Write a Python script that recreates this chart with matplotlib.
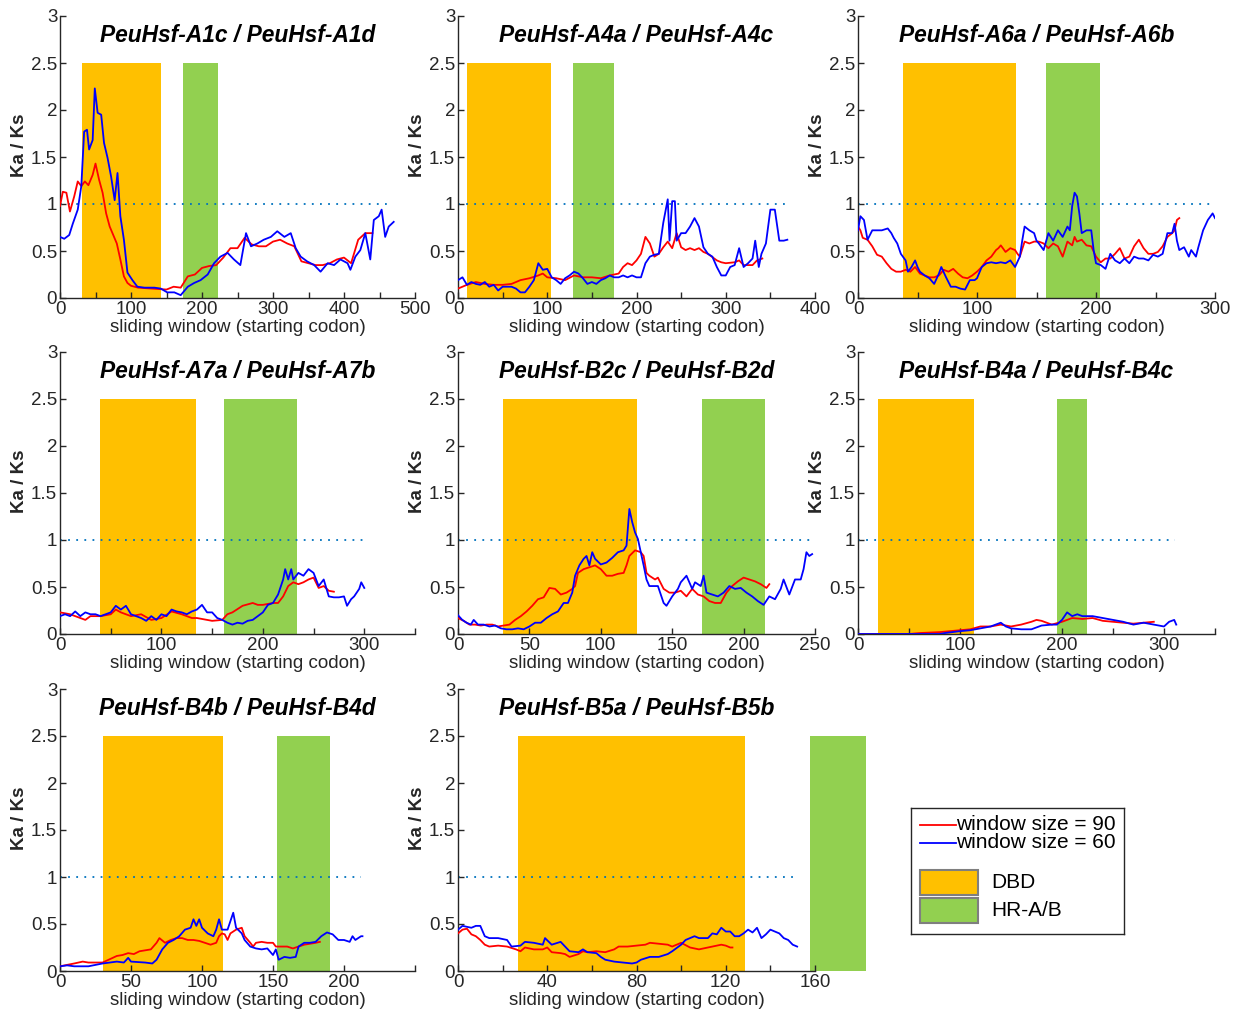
"""
Sliding-window Ka/Ks plots for PeuHsf paralog pairs (saved to out.png).
"""
import matplotlib
matplotlib.use("Agg")
import matplotlib.pyplot as plt
from matplotlib.patches import Rectangle

plt.rcParams["font.family"] = ["Liberation Sans", "DejaVu Sans"]

RED = "#ff0000"
BLUE = "#0000ff"
DBD_COLOR = "#ffc000"
HR_COLOR = "#92d050"
DOT_COLOR = "#0072bd"
AXIS_GRAY = "#262626"

# ---------------- data: A1c / A1d ----------------
a1_title = "PeuHsf-A1c / PeuHsf-A1d"
a1_dbd = (31, 142)
a1_hr = (173, 222)
a1_xlim = 500
a1_dot_end = 468
a1_ticks = [0, 50, 100, 150, 200, 250, 300, 350, 400, 450, 500]
a1_labels = ["0", "", "100", "", "200", "", "300", "", "400", "", "500"]
a1_red_x = [0, 4, 9, 14, 20, 25, 30, 35, 40, 46, 50, 55, 60, 65, 70, 75, 80, 85, 90, 95,
            100, 110, 130, 150, 160, 170, 180, 190, 200, 210, 220, 230, 240, 250, 260, 270,
            280, 290, 300, 310, 320, 330, 340, 350, 360, 370, 380, 390, 400, 410, 420, 430, 440]
a1_red_y = [0.98, 1.13, 1.12, 0.92, 1.08, 1.24, 1.19, 1.24, 1.20, 1.31, 1.43, 1.26, 1.12, 0.90,
            0.76, 0.67, 0.58, 0.41, 0.23, 0.16, 0.13, 0.11, 0.10, 0.09, 0.12, 0.11, 0.23, 0.25,
            0.32, 0.34, 0.35, 0.43, 0.53, 0.53, 0.64, 0.57, 0.55, 0.55, 0.60, 0.62, 0.58, 0.55,
            0.39, 0.37, 0.35, 0.35, 0.37, 0.41, 0.43, 0.37, 0.62, 0.69, 0.69]
a1_blue_x = [0, 6, 13, 18, 25, 30, 34, 38, 41, 46, 49, 53, 58, 62, 67, 72, 77, 81, 85, 90,
             95, 102, 109, 119, 133, 142, 151, 161, 170, 180, 189, 198, 208, 217, 226, 236,
             245, 254, 262, 269, 278, 287, 297, 306, 316, 325, 332, 339, 348, 358, 367, 377,
             386, 395, 405, 409, 416, 423, 430, 437, 442, 449, 453, 458, 463, 470]
a1_blue_y = [0.65, 0.63, 0.67, 0.79, 0.94, 1.19, 1.77, 1.79, 1.58, 1.68, 2.23, 1.97, 1.95, 1.65,
             1.49, 1.29, 1.04, 1.33, 0.87, 0.62, 0.27, 0.19, 0.12, 0.11, 0.11, 0.10, 0.06, 0.06,
             0.03, 0.12, 0.16, 0.19, 0.25, 0.37, 0.44, 0.48, 0.41, 0.35, 0.69, 0.55, 0.58, 0.62,
             0.65, 0.71, 0.65, 0.69, 0.53, 0.44, 0.39, 0.35, 0.28, 0.37, 0.35, 0.41, 0.37, 0.30,
             0.44, 0.51, 0.69, 0.41, 0.83, 0.87, 0.94, 0.65, 0.76, 0.81]

# ---------------- data: A4a / A4c ----------------
a4_title = "PeuHsf-A4a / PeuHsf-A4c"
a4_dbd = (10, 104)
a4_hr = (129, 175)
a4_xlim = 400
a4_dot_end = 367
a4_ticks = [0, 50, 100, 150, 200, 250, 300, 350, 400]
a4_labels = ["0", "", "100", "", "200", "", "300", "", "400"]
a4_red_x = [0, 10, 20, 30, 40, 50, 60, 65, 70, 80, 90, 95, 100, 110, 120, 130, 140, 150, 160,
            170, 180, 185, 190, 195, 200, 205, 210, 215, 220, 225, 230, 235, 240, 245, 250,
            255, 260, 265, 270, 275, 280, 290, 295, 300, 310, 315, 320, 330, 335, 341]
a4_red_y = [0.10, 0.14, 0.17, 0.15, 0.14, 0.14, 0.15, 0.17, 0.19, 0.21, 0.24, 0.26, 0.22, 0.21,
            0.19, 0.24, 0.22, 0.22, 0.21, 0.24, 0.26, 0.33, 0.37, 0.35, 0.40, 0.47, 0.65, 0.58,
            0.44, 0.47, 0.54, 0.60, 0.53, 0.69, 0.54, 0.51, 0.53, 0.51, 0.53, 0.49, 0.47, 0.40,
            0.38, 0.37, 0.38, 0.40, 0.35, 0.35, 0.40, 0.42]
a4_blue_x = [0, 5, 10, 15, 20, 25, 30, 35, 40, 45, 50, 55, 60, 65, 70, 75, 80, 85, 90, 95, 100,
             105, 110, 115, 120, 125, 130, 135, 140, 145, 150, 155, 160, 165, 170, 175, 180,
             185, 190, 195, 200, 205, 210, 215, 220, 225, 230, 235, 237, 240, 243, 245, 250,
             255, 260, 265, 270, 275, 280, 285, 290, 295, 300, 305, 310, 315, 320, 325, 330,
             333, 337, 340, 345, 350, 355, 360, 365, 369]
a4_blue_y = [0.19, 0.22, 0.14, 0.17, 0.15, 0.14, 0.17, 0.12, 0.14, 0.08, 0.12, 0.12, 0.12, 0.10,
             0.06, 0.06, 0.12, 0.19, 0.37, 0.30, 0.31, 0.22, 0.19, 0.15, 0.21, 0.24, 0.28, 0.26,
             0.21, 0.15, 0.17, 0.15, 0.19, 0.21, 0.24, 0.22, 0.22, 0.24, 0.22, 0.24, 0.22, 0.22,
             0.37, 0.44, 0.46, 0.47, 0.80, 1.05, 0.61, 1.03, 1.03, 0.61, 0.69, 0.69, 0.76, 0.85,
             0.76, 0.54, 0.47, 0.44, 0.33, 0.24, 0.24, 0.33, 0.35, 0.53, 0.33, 0.37, 0.42, 0.61,
             0.33, 0.47, 0.58, 0.94, 0.94, 0.61, 0.61, 0.62]

# ---------------- data: A6a / A6b ----------------
a6_title = "PeuHsf-A6a / PeuHsf-A6b"
a6_dbd = (37.6, 132.6)
a6_hr = (158, 203.6)
a6_xlim = 300
a6_dot_end = 300
a6_ticks = [0, 50, 100, 150, 200, 250, 300]
a6_labels = ["0", "", "100", "", "200", "", "300"]
a6_red_x = [0, 2, 4, 8, 12, 16, 20, 24, 28, 32, 36, 40, 44, 48, 52, 56, 60, 64, 68, 72, 76, 80,
            84, 88, 92, 96, 100, 104, 108, 112, 116, 118, 120, 124, 128, 132, 134, 136, 140,
            144, 148, 152, 156, 160, 164, 168, 172, 176, 180, 182, 184, 188, 192, 196, 200,
            204, 208, 212, 216, 220, 224, 228, 232, 236, 240, 244, 248, 252, 256, 260, 264,
            266, 268, 270]
a6_red_y = [0.76, 0.72, 0.64, 0.62, 0.55, 0.46, 0.44, 0.37, 0.31, 0.28, 0.28, 0.30, 0.28, 0.33,
            0.26, 0.24, 0.22, 0.22, 0.24, 0.30, 0.28, 0.31, 0.26, 0.22, 0.21, 0.24, 0.28, 0.33,
            0.40, 0.44, 0.51, 0.53, 0.56, 0.49, 0.53, 0.51, 0.47, 0.44, 0.60, 0.58, 0.60, 0.60,
            0.58, 0.53, 0.58, 0.55, 0.44, 0.60, 0.56, 0.65, 0.60, 0.62, 0.56, 0.55, 0.44, 0.38,
            0.42, 0.42, 0.47, 0.53, 0.42, 0.44, 0.55, 0.62, 0.53, 0.47, 0.47, 0.49, 0.55, 0.65,
            0.69, 0.72, 0.83, 0.85]
a6_blue_x = [0, 2, 5, 8, 12, 16, 20, 25, 28, 30, 33, 36, 40, 42, 45, 48, 50, 52, 56, 60, 64, 68,
             70, 74, 78, 82, 86, 90, 94, 98, 100, 104, 108, 112, 116, 120, 124, 128, 132, 136,
             138, 140, 144, 148, 150, 152, 156, 160, 164, 168, 172, 176, 178, 180, 182, 184,
             186, 188, 192, 196, 198, 200, 204, 208, 212, 216, 220, 224, 228, 232, 236, 240,
             244, 248, 252, 256, 260, 264, 266, 268, 270, 274, 278, 280, 284, 286, 290, 294,
             298, 300]
a6_blue_y = [0.72, 0.87, 0.83, 0.62, 0.72, 0.72, 0.72, 0.74, 0.69, 0.64, 0.58, 0.47, 0.40, 0.28,
             0.33, 0.40, 0.33, 0.28, 0.24, 0.21, 0.15, 0.26, 0.33, 0.22, 0.12, 0.12, 0.10, 0.09,
             0.19, 0.19, 0.21, 0.33, 0.37, 0.38, 0.37, 0.38, 0.37, 0.40, 0.33, 0.44, 0.61, 0.76,
             0.72, 0.69, 0.61, 0.58, 0.51, 0.69, 0.61, 0.72, 0.65, 0.76, 0.72, 0.98, 1.12, 1.08,
             0.90, 0.69, 0.72, 0.72, 0.51, 0.37, 0.35, 0.31, 0.47, 0.40, 0.37, 0.42, 0.37, 0.44,
             0.42, 0.42, 0.40, 0.46, 0.44, 0.47, 0.69, 0.69, 0.79, 0.61, 0.51, 0.54, 0.44, 0.51,
             0.44, 0.54, 0.72, 0.83, 0.90, 0.85]

# ---------------- data: A7a / A7b ----------------
a7_title = "PeuHsf-A7a / PeuHsf-A7b"
a7_dbd = (39.6, 133.8)
a7_hr = (161.6, 233.6)
a7_xlim = 350
a7_dot_end = 300
a7_ticks = [0, 50, 100, 150, 200, 250, 300, 350]
a7_labels = ["0", "", "100", "", "200", "", "300", ""]
a7_red_x = [0, 10, 20, 25, 30, 40, 50, 55, 60, 70, 80, 90, 100, 110, 120, 130, 135, 140, 150,
            160, 165, 170, 180, 190, 195, 200, 210, 215, 220, 225, 230, 235, 240, 245, 250,
            255, 260, 265, 270]
a7_red_y = [0.23, 0.21, 0.17, 0.15, 0.19, 0.19, 0.21, 0.26, 0.23, 0.19, 0.21, 0.15, 0.17, 0.24,
            0.21, 0.17, 0.17, 0.16, 0.14, 0.15, 0.21, 0.23, 0.30, 0.33, 0.31, 0.31, 0.33, 0.33,
            0.40, 0.51, 0.55, 0.53, 0.55, 0.58, 0.60, 0.49, 0.51, 0.46, 0.45]
a7_blue_x = [0, 5, 10, 15, 20, 25, 30, 35, 40, 45, 50, 55, 60, 65, 70, 75, 80, 85, 90, 95, 100,
             105, 110, 115, 120, 125, 130, 135, 140, 145, 150, 155, 160, 165, 170, 175, 180,
             185, 190, 195, 200, 205, 210, 215, 220, 222, 225, 228, 230, 235, 240, 245, 250,
             255, 260, 265, 270, 275, 280, 283, 287, 290, 295, 297, 300]
a7_blue_y = [0.19, 0.21, 0.19, 0.24, 0.19, 0.23, 0.21, 0.21, 0.19, 0.21, 0.23, 0.30, 0.26, 0.30,
             0.21, 0.19, 0.17, 0.14, 0.19, 0.15, 0.21, 0.19, 0.26, 0.24, 0.23, 0.21, 0.24, 0.26,
             0.31, 0.23, 0.23, 0.17, 0.15, 0.12, 0.10, 0.12, 0.11, 0.14, 0.15, 0.19, 0.23, 0.31,
             0.33, 0.42, 0.58, 0.69, 0.58, 0.69, 0.58, 0.65, 0.62, 0.69, 0.65, 0.51, 0.58, 0.40,
             0.39, 0.39, 0.40, 0.30, 0.37, 0.40, 0.48, 0.55, 0.49]

# ---------------- data: B2c / B2d ----------------
b2_title = "PeuHsf-B2c / PeuHsf-B2d"
b2_dbd = (31.7, 125.6)
b2_hr = (171, 215)
b2_xlim = 250
b2_dot_end = 250
b2_ticks = [0, 50, 100, 150, 200, 250]
b2_labels = ["0", "50", "100", "150", "200", "250"]
b2_red_x = [0, 4, 8, 12, 16, 20, 24, 28, 32, 36, 40, 44, 48, 52, 56, 60, 62, 64, 68, 72, 76, 80,
            82, 84, 88, 92, 96, 100, 104, 108, 112, 116, 118, 120, 124, 128, 130, 132, 134,
            138, 140, 144, 148, 152, 156, 160, 164, 168, 172, 176, 180, 184, 188, 192, 196,
            200, 204, 208, 212, 216, 218]
b2_red_y = [0.17, 0.14, 0.10, 0.10, 0.09, 0.10, 0.10, 0.08, 0.09, 0.10, 0.15, 0.19, 0.24, 0.30,
            0.37, 0.39, 0.44, 0.49, 0.48, 0.42, 0.44, 0.48, 0.51, 0.65, 0.69, 0.71, 0.73, 0.69,
            0.62, 0.62, 0.64, 0.65, 0.73, 0.83, 0.89, 0.87, 0.83, 0.65, 0.62, 0.58, 0.60, 0.48,
            0.44, 0.44, 0.46, 0.40, 0.48, 0.42, 0.40, 0.35, 0.33, 0.33, 0.44, 0.51, 0.56, 0.60,
            0.58, 0.56, 0.53, 0.49, 0.53]
b2_blue_x = [0, 3, 6, 9, 11, 14, 18, 22, 26, 30, 34, 38, 42, 46, 50, 54, 58, 62, 66, 70, 74, 77,
             80, 82, 85, 88, 90, 92, 94, 96, 100, 104, 108, 112, 116, 118, 120, 122, 124, 126,
             128, 130, 132, 134, 136, 140, 144, 146, 150, 154, 156, 160, 164, 166, 170, 172,
             174, 178, 182, 186, 190, 194, 198, 202, 206, 210, 214, 218, 222, 226, 228, 232,
             236, 240, 242, 244, 246, 248]
b2_blue_y = [0.20, 0.15, 0.12, 0.10, 0.15, 0.10, 0.10, 0.08, 0.09, 0.06, 0.05, 0.05, 0.06, 0.05,
             0.08, 0.12, 0.12, 0.17, 0.21, 0.24, 0.33, 0.33, 0.44, 0.62, 0.73, 0.80, 0.83, 0.73,
             0.87, 0.80, 0.74, 0.76, 0.81, 0.87, 0.89, 0.94, 1.33, 1.19, 1.08, 1.01, 0.87, 0.73,
             0.58, 0.51, 0.51, 0.51, 0.33, 0.30, 0.40, 0.48, 0.55, 0.62, 0.48, 0.55, 0.51, 0.62,
             0.44, 0.42, 0.40, 0.44, 0.51, 0.48, 0.49, 0.44, 0.40, 0.35, 0.31, 0.40, 0.37, 0.48,
             0.58, 0.42, 0.58, 0.58, 0.69, 0.87, 0.83, 0.85]

# ---------------- data: B4a / B4c ----------------
b4ac_title = "PeuHsf-B4a / PeuHsf-B4c"
b4ac_dbd = (19.7, 113.5)
b4ac_hr = (195.4, 224.6)
b4ac_xlim = 350
b4ac_dot_end = 311
b4ac_ticks = [0, 50, 100, 150, 200, 250, 300, 350]
b4ac_labels = ["0", "", "100", "", "200", "", "300", ""]
b4ac_red_x = [0, 50, 60, 80, 100, 110, 120, 130, 140, 150, 160, 170, 175, 180, 190, 200, 210,
              220, 230, 240, 250, 260, 270, 280, 290]
b4ac_red_y = [0.0, 0.0, 0.01, 0.02, 0.04, 0.05, 0.08, 0.08, 0.10, 0.08, 0.10, 0.13, 0.15, 0.14,
              0.10, 0.13, 0.17, 0.16, 0.17, 0.14, 0.13, 0.12, 0.11, 0.12, 0.13]
b4ac_blue_x = [0, 80, 85, 100, 110, 120, 130, 140, 145, 150, 160, 170, 180, 190, 195, 200, 205,
               210, 215, 220, 230, 240, 250, 260, 270, 280, 290, 300, 305, 310, 312]
b4ac_blue_y = [0.0, 0.0, 0.01, 0.03, 0.04, 0.06, 0.08, 0.12, 0.08, 0.06, 0.05, 0.05, 0.09, 0.10,
               0.10, 0.15, 0.23, 0.19, 0.21, 0.19, 0.19, 0.17, 0.15, 0.13, 0.10, 0.12, 0.10,
               0.08, 0.13, 0.15, 0.10]

# ---------------- data: B4b / B4d ----------------
b4bd_title = "PeuHsf-B4b / PeuHsf-B4d"
b4bd_dbd = (30, 114.6)
b4bd_hr = (153, 190)
b4bd_xlim = 250
b4bd_dot_end = 212
b4bd_ticks = [0, 50, 100, 150, 200, 250]
b4bd_labels = ["0", "50", "100", "150", "200", ""]
b4bd_red_x = [0, 10, 16, 20, 30, 40, 44, 48, 52, 56, 60, 64, 68, 70, 74, 78, 82, 86, 90, 94,
              98, 102, 106, 110, 112, 114, 116, 118, 120, 124, 128, 130, 134, 136, 138, 142,
              146, 150, 152, 156, 160, 164, 168, 172, 176, 180, 183]
b4bd_red_y = [0.05, 0.08, 0.10, 0.09, 0.09, 0.16, 0.17, 0.19, 0.18, 0.21, 0.22, 0.23, 0.30,
              0.35, 0.30, 0.33, 0.35, 0.35, 0.33, 0.33, 0.32, 0.30, 0.28, 0.30, 0.37, 0.40, 0.39,
              0.33, 0.40, 0.44, 0.46, 0.37, 0.30, 0.26, 0.30, 0.31, 0.30, 0.30, 0.26, 0.26, 0.26,
              0.24, 0.26, 0.28, 0.29, 0.30, 0.31]
b4bd_blue_x = [0, 5, 10, 20, 30, 35, 40, 45, 48, 50, 60, 65, 68, 72, 76, 80, 84, 88, 92, 94, 96,
               98, 100, 104, 108, 110, 112, 114, 118, 122, 124, 128, 130, 134, 138, 142, 146,
               150, 152, 154, 158, 162, 166, 168, 172, 176, 180, 184, 188, 192, 196, 200, 204,
               206, 208, 212, 213]
b4bd_blue_y = [0.05, 0.06, 0.05, 0.05, 0.08, 0.09, 0.10, 0.09, 0.14, 0.10, 0.09, 0.08, 0.12,
               0.23, 0.30, 0.33, 0.37, 0.44, 0.46, 0.55, 0.48, 0.55, 0.46, 0.40, 0.37, 0.44, 0.55,
               0.44, 0.44, 0.62, 0.46, 0.40, 0.33, 0.26, 0.24, 0.23, 0.24, 0.17, 0.23, 0.12, 0.15,
               0.14, 0.15, 0.26, 0.30, 0.30, 0.31, 0.37, 0.41, 0.39, 0.33, 0.33, 0.31, 0.37, 0.33,
               0.37, 0.37]

# ---------------- data: B5a / B5b ----------------
b5_title = "PeuHsf-B5a / PeuHsf-B5b"
b5_dbd = (26.9, 128.8)
b5_hr = (157.6, 182.8)
b5_xlim = 160
b5_dot_end = 152
b5_ticks = [0, 20, 40, 60, 80, 100, 120, 140, 160]
b5_labels = ["0", "", "40", "", "80", "", "120", "", "160"]
b5_red_x = [0, 2, 4, 6, 8, 10, 12, 14, 18, 22, 26, 28, 30, 34, 38, 40, 42, 46, 48, 50, 54, 56,
            58, 62, 66, 70, 72, 76, 80, 84, 86, 90, 94, 96, 98, 100, 104, 108, 112, 114, 118,
            120, 122, 123]
b5_red_y = [0.40, 0.44, 0.45, 0.39, 0.37, 0.33, 0.28, 0.26, 0.27, 0.26, 0.23, 0.21, 0.25, 0.23,
            0.23, 0.25, 0.20, 0.19, 0.18, 0.15, 0.18, 0.21, 0.20, 0.21, 0.20, 0.23, 0.26, 0.26,
            0.27, 0.28, 0.30, 0.29, 0.28, 0.26, 0.28, 0.30, 0.25, 0.23, 0.25, 0.26, 0.28, 0.27,
            0.25, 0.25]
b5_blue_x = [0, 2, 4, 6, 8, 10, 12, 14, 18, 22, 24, 28, 30, 34, 38, 39, 42, 46, 48, 50, 54, 56,
             58, 62, 64, 66, 70, 74, 78, 80, 82, 86, 90, 94, 96, 100, 102, 106, 108, 112, 114,
             116, 118, 120, 122, 124, 126, 128, 130, 132, 134, 136, 138, 140, 142, 144, 146,
             148, 150, 152]
b5_blue_y = [0.44, 0.48, 0.47, 0.46, 0.48, 0.48, 0.37, 0.35, 0.35, 0.33, 0.26, 0.27, 0.31, 0.30,
             0.28, 0.35, 0.28, 0.31, 0.26, 0.21, 0.20, 0.23, 0.20, 0.19, 0.15, 0.12, 0.10, 0.09,
             0.08, 0.09, 0.12, 0.15, 0.15, 0.18, 0.21, 0.28, 0.33, 0.37, 0.35, 0.35, 0.40, 0.39,
             0.46, 0.42, 0.42, 0.37, 0.37, 0.40, 0.44, 0.41, 0.46, 0.35, 0.39, 0.44, 0.42, 0.40,
             0.35, 0.33, 0.28, 0.26]

legend_lines = ["window size = 90", "window size = 60"]
legend_boxes = ["DBD", "HR-A/B"]


def draw_panel(ax, p):
    ax.axvspan(*p["dbd"], ymin=0, ymax=2.5 / 3, color=DBD_COLOR, lw=0, zorder=1)
    hr = ax.axvspan(*p["hr"], ymin=0, ymax=2.5 / 3, color=HR_COLOR, lw=0, zorder=1)
    hr.set_clip_on(False)
    ax.plot([0, p["dot_end"]], [1, 1], ls=(0, (1, 3.5)), color=DOT_COLOR, lw=1.3, zorder=2)
    ax.plot(p["red_x"], p["red_y"], color=RED, lw=1.3, zorder=3)
    ax.plot(p["blue_x"], p["blue_y"], color=BLUE, lw=1.3, zorder=4)

    ax.set_xlim(0, p["xlim"])
    ax.set_ylim(0, 3)
    ax.set_xticks(p["ticks"])
    ax.set_xticklabels(p["labels"])
    ax.set_yticks([0, 0.5, 1, 1.5, 2, 2.5, 3])
    ax.set_yticklabels(["0", "0.5", "1", "1.5", "2", "2.5", "3"])
    for side in ("top", "right"):
        ax.spines[side].set_visible(False)
    for side in ("left", "bottom"):
        ax.spines[side].set_color(AXIS_GRAY)
        ax.spines[side].set_linewidth(1.0)
    ax.tick_params(direction="in", length=4, width=1, colors=AXIS_GRAY,
                   labelsize=13.5, pad=2)
    ax.set_xlabel("sliding window (starting codon)", fontsize=13.5, labelpad=1, color=AXIS_GRAY)
    ax.set_ylabel("Ka / Ks", fontsize=13.5, fontweight="bold", color=AXIS_GRAY)
    ax.yaxis.set_label_coords(-0.09, 0.54)
    ax.text(0.5, 0.93, p["title"], transform=ax.transAxes, ha="center", va="center",
            fontsize=16.4, fontweight="bold", fontstyle="italic", color="black")


def main():
    panels = [
        dict(title=a1_title, dbd=a1_dbd, hr=a1_hr, xlim=a1_xlim, dot_end=a1_dot_end,
             ticks=a1_ticks, labels=a1_labels, red_x=a1_red_x, red_y=a1_red_y,
             blue_x=a1_blue_x, blue_y=a1_blue_y),
        dict(title=a4_title, dbd=a4_dbd, hr=a4_hr, xlim=a4_xlim, dot_end=a4_dot_end,
             ticks=a4_ticks, labels=a4_labels, red_x=a4_red_x, red_y=a4_red_y,
             blue_x=a4_blue_x, blue_y=a4_blue_y),
        dict(title=a6_title, dbd=a6_dbd, hr=a6_hr, xlim=a6_xlim, dot_end=a6_dot_end,
             ticks=a6_ticks, labels=a6_labels, red_x=a6_red_x, red_y=a6_red_y,
             blue_x=a6_blue_x, blue_y=a6_blue_y),
        dict(title=a7_title, dbd=a7_dbd, hr=a7_hr, xlim=a7_xlim, dot_end=a7_dot_end,
             ticks=a7_ticks, labels=a7_labels, red_x=a7_red_x, red_y=a7_red_y,
             blue_x=a7_blue_x, blue_y=a7_blue_y),
        dict(title=b2_title, dbd=b2_dbd, hr=b2_hr, xlim=b2_xlim, dot_end=b2_dot_end,
             ticks=b2_ticks, labels=b2_labels, red_x=b2_red_x, red_y=b2_red_y,
             blue_x=b2_blue_x, blue_y=b2_blue_y),
        dict(title=b4ac_title, dbd=b4ac_dbd, hr=b4ac_hr, xlim=b4ac_xlim, dot_end=b4ac_dot_end,
             ticks=b4ac_ticks, labels=b4ac_labels, red_x=b4ac_red_x, red_y=b4ac_red_y,
             blue_x=b4ac_blue_x, blue_y=b4ac_blue_y),
        dict(title=b4bd_title, dbd=b4bd_dbd, hr=b4bd_hr, xlim=b4bd_xlim, dot_end=b4bd_dot_end,
             ticks=b4bd_ticks, labels=b4bd_labels, red_x=b4bd_red_x, red_y=b4bd_red_y,
             blue_x=b4bd_blue_x, blue_y=b4bd_blue_y),
        dict(title=b5_title, dbd=b5_dbd, hr=b5_hr, xlim=b5_xlim, dot_end=b5_dot_end,
             ticks=b5_ticks, labels=b5_labels, red_x=b5_red_x, red_y=b5_red_y,
             blue_x=b5_blue_x, blue_y=b5_blue_y),
    ]

    W, H = 1246, 1011
    fig = plt.figure(figsize=(W / 100, H / 100), dpi=100)
    col_left = [60, 458, 858]
    col_width = [355, 357, 357]
    row_bottom = [298, 634, 971]
    row_height = 282

    for i, p in enumerate(panels):
        r, c = divmod(i, 3)
        ax = fig.add_axes([col_left[c] / W, 1 - row_bottom[r] / H,
                           col_width[c] / W, row_height / H])
        draw_panel(ax, p)

    # legend drawn in pixel-like coordinates of its own box
    lx, ly, lw, lh = 911, 808, 213, 126
    lax = fig.add_axes([lx / W, 1 - (ly + lh) / H, lw / W, lh / H])
    lax.set_xlim(0, lw)
    lax.set_ylim(lh, 0)
    lax.set_xticks([])
    lax.set_yticks([])
    for s in lax.spines.values():
        s.set_color(AXIS_GRAY)
        s.set_linewidth(1.0)
    for k, (label, col) in enumerate(zip(legend_lines, [RED, BLUE])):
        yy = 17 + 18 * k
        lax.plot([9, 45], [yy, yy], color=col, lw=1.3)
        lax.text(45, yy, label, fontsize=15, va="center", ha="left")
    for k, (label, col) in enumerate(zip(legend_boxes, [DBD_COLOR, HR_COLOR])):
        yy = 62 + 28 * k
        lax.add_patch(Rectangle((9, yy), 58, 25, facecolor=col, edgecolor="#7f7f7f", lw=1.5))
        lax.text(80, yy + 12.5, label, fontsize=15, va="center", ha="left")

    fig.savefig("out.png", dpi=100)
    plt.close(fig)


if __name__ == "__main__":
    main()
